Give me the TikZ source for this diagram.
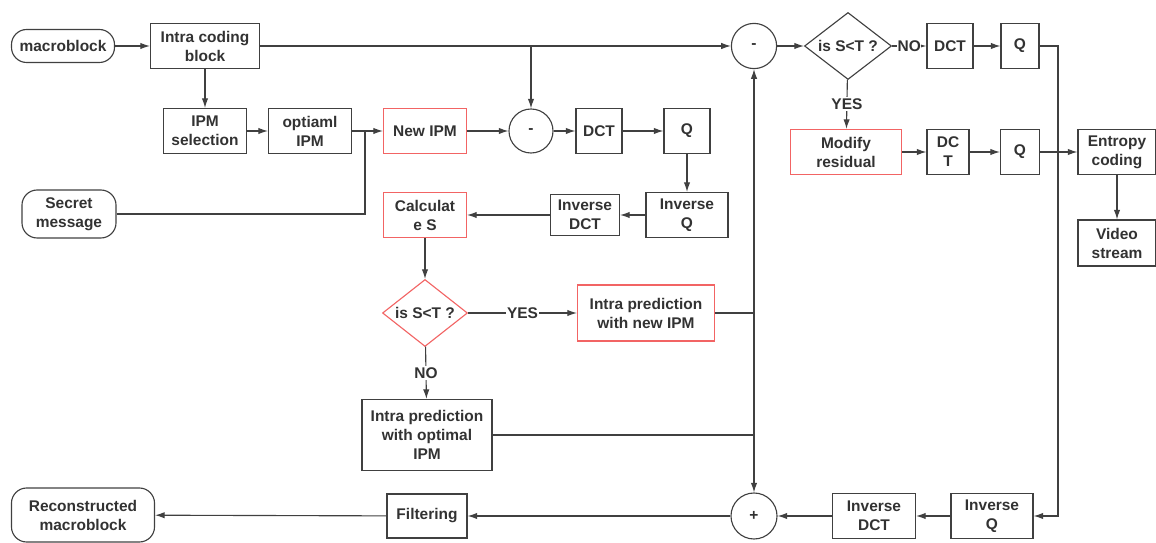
\documentclass[tikz,border=0pt]{standalone}
\usepackage{fontspec}
\setmainfont{Liberation Sans}
\usepackage{tikz}
\usetikzlibrary{arrows.meta,shapes.geometric,positioning}
\usepackage{xcolor}
\definecolor{flowdark}{RGB}{64,64,64}
\definecolor{flowtext}{RGB}{50,50,50}
\definecolor{flowred}{RGB}{242,100,100}

\begin{document}
\begin{tikzpicture}[x=0.025cm,y=-0.025cm,
		line width=0.8pt, flowdark,
		every node/.style={font=\fontsize{11}{13.5}\selectfont\bfseries, text=flowtext, align=center},
		blk/.style={draw=flowdark, rectangle, inner sep=0pt, minimum height=1.125cm},
		redblk/.style={blk, draw=flowred},
		term/.style={blk, rounded corners=0.38cm},
		sumc/.style={draw=flowdark, circle, inner sep=0pt, minimum size=1.13cm},
		test/.style={draw=flowred, diamond, aspect=1.3, inner sep=0pt, minimum width=2.125cm, minimum height=1.675cm},
		lbl/.style={fill=white, inner sep=1pt},
		arr/.style={-{Latex[length=2.4mm,width=1.6mm]}}]
			\useasboundingbox (0,0) rectangle (1156,543);
			
			% upper path
			\node[term, minimum width=2.575cm, minimum height=0.825cm] (mb) at (63,46) {macroblock};
			\node[blk, minimum width=2.725cm] (icb) at (205,46) {Intra coding\\block};
			\node[blk, minimum width=2.075cm] (ipmsel) at (205,131) {IPM\\selection};
			\node[blk, minimum width=2.075cm] (optipm) at (310,131) {optiaml\\IPM};
			\node[term, minimum width=2.35cm, minimum height=1.2cm] (secret) at (69,214) {Secret\\message};
			\node[redblk, minimum width=2.075cm] (newipm) at (425,131) {New IPM};
			\node[sumc, minimum size=1.1cm] (msmall) at (531,131) {-};
			\node[blk, minimum width=1.15cm] (dcta) at (599,131) {DCT};
			\node[blk, minimum width=1.15cm] (qa) at (687,131) {Q};
			\node[blk, minimum width=2.05cm] (invqa) at (687,215) {Inverse\\Q};
			\node[blk, minimum width=1.725cm, minimum height=1.025cm] (invdcta) at (585,215) {Inverse\\DCT};
			\node[redblk, minimum width=2.075cm] (calcs) at (425,215) {Calculat\\e S};
			\node[test] (testa) at (425,313) {is S<T ?};
			\node[redblk, minimum width=3.425cm, minimum height=1.4cm] (newpred) at (646,313) {Intra prediction\\with new IPM};
			\node[blk, minimum width=3.25cm, minimum height=1.775cm] (optpred) at (427,435) {Intra prediction\\with optimal\\IPM};
			
			% right part
			\node[sumc] (mtop) at (754,46) {-};
			\node[test, draw=flowdark, minimum width=2.175cm] (testb) at (848,46) {is S<T ?};
			\node[blk, minimum width=1.15cm] (dctb) at (950,46) {DCT};
			\node[blk, minimum width=0.95cm] (qb) at (1020,46) {Q};
			\node[redblk, minimum width=2.775cm] (modres) at (846,152) {Modify\\residual};
			\node[blk, minimum width=1.05cm] (dctc) at (948,152) {DC\\T};
			\node[blk, minimum width=0.975cm] (qc) at (1020,152) {Q};
			\node[blk, minimum width=1.95cm] (entropy) at (1117,152) {Entropy\\coding};
			\node[blk, minimum width=1.95cm, minimum height=1.15cm] (video) at (1117,243) {Video\\stream};
			
			% bottom row
			\node[term, minimum width=3.575cm, minimum height=1.35cm] (recon) at (83,515) {Reconstructed\\macroblock};
			\node[blk, minimum width=2cm, minimum height=1.1cm] (filter) at (427,516) {Filtering};
			\node[sumc, minimum size=1.15cm] (plus) at (754,516) {+};
			\node[blk, minimum width=2.075cm] (invdctb) at (874,516) {Inverse\\DCT};
			\node[blk, minimum width=2.05cm] (invqb) at (992,516) {Inverse\\Q};
			
			\coordinate (join) at (365,131);
			\coordinate (branch) at (msmall.north |- icb.east);
			\coordinate (turn) at (1058,46);
			\coordinate (vjoin) at (mtop.south |- optpred.east);
			
			\draw[arr] (mb) -- (icb);
			\draw[arr] (icb.east) -- (mtop.west);
			\draw[arr] (branch) -- (msmall.north);
			\draw[arr] (icb) -- (ipmsel);
			\draw[arr] (ipmsel) -- (optipm);
			\draw (optipm.east) -- (join);
			\draw (secret.east) -- (join |- secret.east) -- (join);
			\draw[arr] (join) -- (newipm.west);
			\draw[arr] (newipm) -- (msmall);
			\draw[arr] (msmall) -- (dcta);
			\draw[arr] (dcta) -- (qa);
			\draw[arr] (qa) -- (invqa);
			\draw[arr] (invqa) -- (invdcta);
			\draw[arr] (invdcta) -- (calcs);
			\draw[arr] (calcs) -- (testa);
			\draw[arr] (testa) -- node[lbl] {YES} (newpred);
			\draw[arr] (testa) -- node[lbl] {NO} (optpred);
			\draw (newpred.east) -- (mtop.south |- newpred.east);
			\draw (optpred.east) -- (vjoin);
			\draw[arr] (vjoin) -- (mtop.south);
			\draw[arr] (vjoin) -- (plus.north);
			
			\draw[arr] (mtop) -- (testb);
			\draw[arr] (testb) -- node[lbl, inner sep=0.3pt] {NO} (dctb);
			\draw[arr] (testb) -- node[lbl] {YES} (modres);
			\draw[arr] (dctb) -- (qb);
			\draw[arr] (qb.east) -- (turn) -- (turn |- invqb.east) -- (invqb.east);
			\draw[arr] (modres) -- (dctc);
			\draw[arr] (dctc) -- (qc);
			\draw[arr] (qc) -- (entropy);
			\draw[arr] (entropy) -- (video);
			
			\draw[arr] (invqb) -- (invdctb);
			\draw[arr] (invdctb) -- (plus);
			\draw[arr] (plus) -- (filter);
			\draw[arr] (filter) -- (recon);
		\end{tikzpicture}
\end{document}
